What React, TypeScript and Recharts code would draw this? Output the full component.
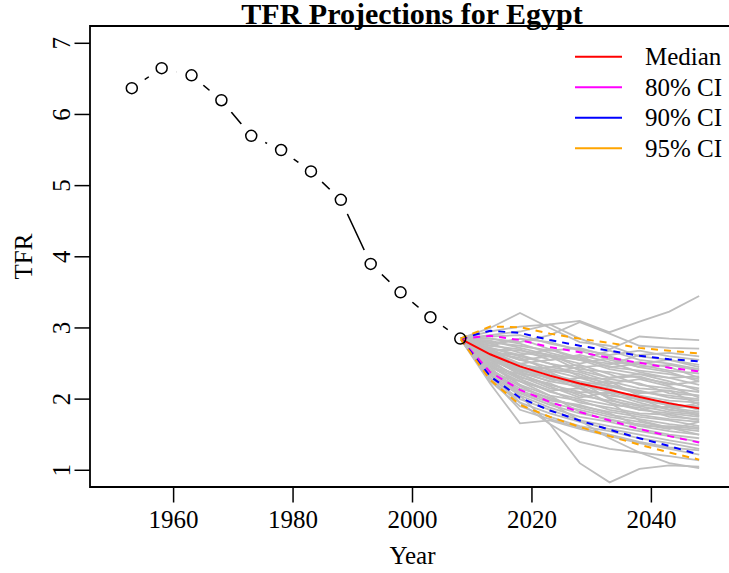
import { ComposedChart, Line, XAxis, YAxis, ReferenceArea, Legend } from 'recharts';

// Observed TFR (5-year periods, mid-points)
const OBS_YEARS = [1953, 1958, 1963, 1968, 1973, 1978, 1983, 1988, 1993, 1998, 2003, 2008];
const OBS_TFR = [6.37, 6.65, 6.55, 6.2, 5.7, 5.5, 5.2, 4.8, 3.9, 3.5, 3.15, 2.85];

// Projection periods
const PROJ_YEARS = [2008, 2013, 2018, 2023, 2028, 2033, 2038, 2043, 2048];
const START_TFR = 2.85;

const MEDIAN = [2.85, 2.63, 2.46, 2.33, 2.22, 2.13, 2.03, 1.94, 1.87];
const CI80_LO = [2.85, 2.38, 2.13, 1.96, 1.82, 1.7, 1.58, 1.48, 1.39];
const CI80_HI = [2.85, 2.89, 2.83, 2.73, 2.66, 2.58, 2.51, 2.44, 2.39];
const CI90_LO = [2.85, 2.32, 2.02, 1.84, 1.7, 1.57, 1.45, 1.34, 1.22];
const CI90_HI = [2.85, 2.96, 2.93, 2.83, 2.75, 2.68, 2.61, 2.56, 2.53];
const CI95_LO = [2.85, 2.27, 1.92, 1.75, 1.61, 1.48, 1.36, 1.25, 1.15];
const CI95_HI = [2.85, 3.02, 3.01, 2.92, 2.85, 2.79, 2.72, 2.68, 2.64];

// Simulated trajectories, 2013..2048
const TRAJECTORIES = [
  [2.95, 3.02, 3.05, 3.1, 2.94, 3.09, 3.23, 3.45],
  [3.0, 3.21, 3.0, 2.8, 2.75, 2.6, 2.55, 2.45],
  [2.9, 2.95, 3.05, 2.85, 2.7, 2.88, 2.85, 2.83],
  [2.85, 2.8, 2.9, 3.08, 2.92, 2.75, 2.72, 2.71],
  [2.88, 2.9, 2.78, 2.7, 2.62, 2.68, 2.6, 2.55],
  [2.8, 2.75, 2.68, 2.72, 2.6, 2.48, 2.4, 2.36],
  [2.75, 2.85, 2.7, 2.55, 2.5, 2.52, 2.45, 2.3],
  [2.78, 2.65, 2.6, 2.5, 2.58, 2.45, 2.38, 2.25],
  [2.7, 2.68, 2.62, 2.55, 2.42, 2.35, 2.3, 2.2],
  [2.72, 2.6, 2.5, 2.42, 2.38, 2.3, 2.22, 2.15],
  [2.68, 2.55, 2.45, 2.48, 2.35, 2.2, 2.15, 2.1],
  [2.65, 2.58, 2.4, 2.3, 2.28, 2.22, 2.08, 2.05],
  [2.66, 2.48, 2.42, 2.35, 2.2, 2.1, 2.05, 2.0],
  [2.62, 2.5, 2.35, 2.25, 2.18, 2.12, 2.02, 1.98],
  [2.6, 2.45, 2.38, 2.2, 2.1, 2.05, 1.98, 1.95],
  [2.63, 2.42, 2.28, 2.22, 2.15, 1.98, 1.92, 1.9],
  [2.58, 2.4, 2.3, 2.15, 2.05, 2.0, 1.95, 1.85],
  [2.55, 2.38, 2.25, 2.18, 2.02, 1.92, 1.88, 1.82],
  [2.57, 2.35, 2.2, 2.1, 2.08, 1.95, 1.85, 1.8],
  [2.52, 2.3, 2.22, 2.05, 1.98, 1.9, 1.82, 1.78],
  [2.5, 2.32, 2.15, 2.08, 1.95, 1.85, 1.8, 1.75],
  [2.48, 2.28, 2.1, 2.0, 1.92, 1.88, 1.75, 1.72],
  [2.45, 2.25, 2.12, 1.95, 1.88, 1.8, 1.78, 1.7],
  [2.47, 2.2, 2.05, 1.98, 1.85, 1.78, 1.72, 1.68],
  [2.42, 2.18, 2.0, 1.9, 1.82, 1.75, 1.7, 1.62],
  [2.4, 2.15, 2.02, 1.88, 1.78, 1.72, 1.65, 1.6],
  [2.38, 2.1, 1.95, 1.85, 1.75, 1.68, 1.6, 1.55],
  [2.35, 2.08, 1.92, 1.8, 1.72, 1.62, 1.55, 1.5],
  [2.33, 2.05, 1.88, 1.75, 1.68, 1.58, 1.5, 1.45],
  [2.3, 2.0, 1.85, 1.7, 1.62, 1.55, 1.48, 1.4],
  [2.28, 1.95, 1.8, 1.68, 1.58, 1.5, 1.42, 1.35],
  [2.25, 1.9, 1.75, 1.62, 1.55, 1.45, 1.38, 1.3],
  [2.3, 1.85, 1.72, 1.6, 1.5, 1.4, 1.32, 1.28],
  [2.22, 1.66, 1.7, 1.58, 1.48, 1.38, 1.3, 1.22],
  [2.35, 1.95, 1.65, 1.4, 1.3, 1.25, 1.2, 1.14],
  [2.45, 2.05, 1.65, 1.1, 0.83, 1.02, 1.07, 1.05],
  [2.5, 2.2, 1.95, 1.7, 1.45, 1.25, 1.1, 1.03],
  [2.55, 2.28, 2.12, 2.15, 1.95, 1.7, 1.6, 1.5],
  [2.7, 2.55, 2.6, 2.4, 2.3, 2.35, 2.25, 2.12],
  [2.6, 2.4, 2.45, 2.38, 2.25, 2.15, 2.12, 1.92],
  [2.75, 2.7, 2.55, 2.6, 2.45, 2.4, 2.35, 2.28],
  [2.52, 2.45, 2.3, 2.2, 2.25, 2.05, 1.9, 1.88],
  [2.45, 2.35, 2.18, 2.02, 2.1, 2.0, 1.85, 1.95],
  [2.65, 2.62, 2.5, 2.32, 2.22, 2.28, 2.18, 2.02],
  [2.58, 2.35, 2.32, 2.25, 2.0, 1.85, 1.9, 1.76],
  [2.82, 2.72, 2.62, 2.45, 2.48, 2.62, 2.65, 2.6],
  [2.4, 2.12, 1.98, 1.92, 1.8, 1.62, 1.62, 1.58],
  [2.36, 2.25, 2.05, 1.82, 1.7, 1.65, 1.58, 1.68],
  [2.85, 2.78, 2.65, 2.55, 2.68, 2.55, 2.5, 2.42],
  [2.72, 2.62, 2.7, 2.58, 2.45, 2.5, 2.55, 2.48],
  [2.68, 2.5, 2.55, 2.62, 2.52, 2.38, 2.3, 2.32],
  [2.78, 2.85, 2.8, 2.68, 2.55, 2.45, 2.48, 2.4],
  [2.55, 2.5, 2.38, 2.45, 2.3, 2.32, 2.2, 2.25],
  [2.62, 2.38, 2.25, 2.3, 2.18, 2.08, 2.12, 2.05],
];

const X_TICKS = [1960, 1980, 2000, 2020, 2040];
const Y_TICKS = [1, 2, 3, 4, 5, 6, 7];
const X_DOMAIN: [number, number] = [1946, 2054];
const Y_DOMAIN: [number, number] = [0.765, 7.243];

const FONT = "'Liberation Serif', 'Times New Roman', serif";
const GAP = 15.5;

const LEGEND_ITEMS = [
  { label: 'Median', color: '#ff0000' },
  { label: '80% CI', color: '#ff00ff' },
  { label: '90% CI', color: '#0000ff' },
  { label: '95% CI', color: '#ffa500' },
];

const CI_SERIES = [
  { key: 'lo80', values: CI80_LO, color: '#ff00ff' },
  { key: 'hi80', values: CI80_HI, color: '#ff00ff' },
  { key: 'lo90', values: CI90_LO, color: '#0000ff' },
  { key: 'hi90', values: CI90_HI, color: '#0000ff' },
  { key: 'lo95', values: CI95_LO, color: '#ffa500' },
  { key: 'hi95', values: CI95_HI, color: '#ffa500' },
];

const obsData = OBS_YEARS.map((year, i) => ({ year, tfr: OBS_TFR[i] }));

const projData = PROJ_YEARS.map((year, i) => {
  const row: Record<string, number> = { year, median: MEDIAN[i] };
  CI_SERIES.forEach((s) => {
    row[s.key] = s.values[i];
  });
  TRAJECTORIES.forEach((t, k) => {
    row[`t${k}`] = i === 0 ? START_TFR : t[i - 1];
  });
  return row;
});

// R-style type="b" point: a white halo leaves the gap around each circle.
// The last point only gets a left half-halo so the projections stay visible.
function ObsDot(props: any) {
  const { cx, cy, index } = props;
  if (cx == null || cy == null) return <g key={`obs-${index}`} />;
  const last = index === OBS_YEARS.length - 1;
  return (
    <g key={`obs-${index}`}>
      {last ? (
        <path
          d={`M ${cx} ${cy - GAP} A ${GAP} ${GAP} 0 0 0 ${cx} ${cy + GAP} Z`}
          fill="#fff"
        />
      ) : (
        <circle cx={cx} cy={cy} r={GAP} fill="#fff" />
      )}
      <circle cx={cx} cy={cy} r={5.5} fill="none" stroke="#000" strokeWidth={1.5} />
    </g>
  );
}

function YTick(props: any) {
  const { x, y, payload } = props;
  return (
    <text
      x={x}
      y={y}
      transform={`rotate(-90, ${x}, ${y})`}
      textAnchor="middle"
      fontSize={25}
      fontFamily={FONT}
      fill="#000"
    >
      {payload.value}
    </text>
  );
}

function YLabel(props: any) {
  const { viewBox } = props;
  const x = viewBox.x + 32;
  const y = viewBox.y + viewBox.height / 2;
  return (
    <text
      x={x}
      y={y}
      transform={`rotate(-90, ${x}, ${y})`}
      textAnchor="middle"
      fontSize={25}
      fontFamily={FONT}
      fill="#000"
    >
      TFR
    </text>
  );
}

function LegendBox() {
  return (
    <svg width={170} height={130}>
      {LEGEND_ITEMS.map((item, i) => {
        const y = 16.7 + i * 30.5;
        return (
          <g key={item.label}>
            <line x1={10} x2={57} y1={y} y2={y} stroke={item.color} strokeWidth={2} />
            <text x={80} y={y + 8.5} fontSize={25} fontFamily={FONT} fill="#000">
              {item.label}
            </text>
          </g>
        );
      })}
    </svg>
  );
}

export default function App() {
  return (
    <div
      style={{
        position: 'absolute',
        left: 0,
        top: 0,
        width: 729,
        height: 573,
        overflow: 'hidden',
        background: '#fff',
      }}
    >
      <ComposedChart width={760} height={573} margin={{ top: 26, right: 25, bottom: 0, left: 0 }}>
        <XAxis
          type="number"
          dataKey="year"
          domain={X_DOMAIN}
          allowDataOverflow
          ticks={X_TICKS}
          axisLine={false}
          tickLine={{ stroke: '#000', strokeWidth: 1.5 }}
          tickSize={15.5}
          tickMargin={7.75}
          height={86}
          tick={{ fontSize: 25, fontFamily: FONT, fill: '#000' }}
          label={{ value: 'Year', position: 'insideBottom', offset: 9, fontSize: 25, fontFamily: FONT, fill: '#000' }}
        />
        <YAxis
          type="number"
          domain={Y_DOMAIN}
          allowDataOverflow
          ticks={Y_TICKS}
          axisLine={false}
          tickLine={{ stroke: '#000', strokeWidth: 1.5 }}
          tickSize={15.5}
          tickMargin={4.5}
          width={90}
          tick={<YTick />}
          label={<YLabel />}
        />
        <ReferenceArea
          x1={X_DOMAIN[0]}
          x2={X_DOMAIN[1]}
          y1={Y_DOMAIN[0]}
          y2={Y_DOMAIN[1]}
          fill="none"
          stroke="#000"
          strokeWidth={1.8}
          fillOpacity={0}
        />
        <Line
          data={obsData}
          dataKey="tfr"
          stroke="#000"
          strokeWidth={1.5}
          dot={ObsDot}
          activeDot={false}
          isAnimationActive={false}
        />
        {TRAJECTORIES.map((_, k) => (
          <Line
            key={`t${k}`}
            data={projData}
            dataKey={`t${k}`}
            stroke="#bebebe"
            strokeWidth={1.8}
            dot={false}
            activeDot={false}
            isAnimationActive={false}
          />
        ))}
        <Line
          data={projData}
          dataKey="median"
          stroke="#ff0000"
          strokeWidth={2}
          dot={false}
          activeDot={false}
          isAnimationActive={false}
        />
        {CI_SERIES.map((s) => (
          <Line
            key={s.key}
            data={projData}
            dataKey={s.key}
            stroke={s.color}
            strokeWidth={2}
            strokeDasharray="7 6"
            dot={false}
            activeDot={false}
            isAnimationActive={false}
          />
        ))}
        <Legend
          layout="vertical"
          align="center"
          verticalAlign="middle"
          content={<LegendBox />}
          wrapperStyle={{ position: 'absolute', left: 565, top: 40, width: 170, height: 130 }}
        />
      </ComposedChart>
      <svg
        width={729}
        height={40}
        style={{ position: 'absolute', left: 0, top: 0, pointerEvents: 'none' }}
      >
        <text x={412} y={24} textAnchor="middle" fontSize={30} fontWeight="bold" fontFamily={FONT} fill="#000">
          TFR Projections for Egypt
        </text>
      </svg>
    </div>
  );
}
